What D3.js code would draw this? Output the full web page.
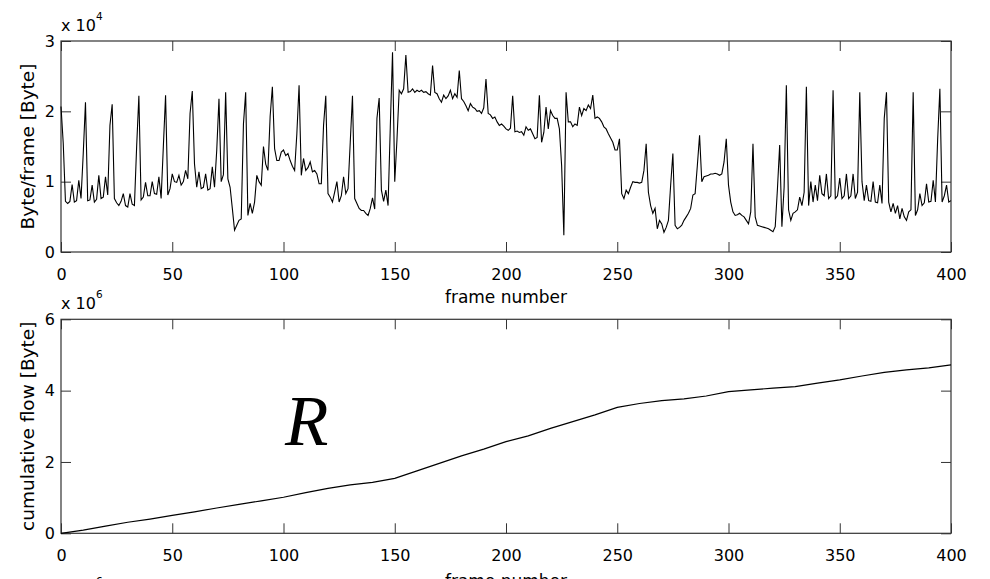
<!DOCTYPE html>
<html>
<head>
<meta charset="utf-8">
<script src="https://cdn.jsdelivr.net/npm/d3@7"></script>
<style>
  html, body { margin: 0; padding: 0; background: #fff; }
  svg { display: block; }
  .tick text { font-family: "DejaVu Sans", sans-serif; font-size: 16px; fill: #000; }
  .tick line { stroke: #333; stroke-width: 1; }
  .label { font-family: "DejaVu Sans", sans-serif; fill: #000; }
</style>
</head>
<body>
<div id="chart"></div>
<script>
// Byte per frame for frames 0..400, in units of 1e4 Byte
const bytesPerFrame = [
    2.07, 1.55, 0.72, 0.69, 0.72, 0.96, 0.71, 0.73, 1.02, 0.76, 1.40, 2.13,
    0.73, 0.74, 0.95, 0.71, 0.75, 1.09, 0.76, 0.78, 1.07, 0.81, 1.80, 2.10,
    0.76, 0.70, 0.66, 0.72, 0.83, 0.66, 0.64, 0.83, 0.68, 0.66, 1.50, 2.22,
    0.74, 0.78, 0.99, 0.80, 0.80, 1.00, 0.83, 0.82, 1.07, 0.76, 1.50, 2.23,
    0.81, 0.90, 1.11, 1.00, 0.99, 1.09, 0.95, 1.00, 1.16, 1.04, 1.97, 2.29,
    1.25, 0.92, 1.14, 0.90, 0.92, 1.11, 0.88, 0.90, 1.21, 0.92, 1.45, 2.18,
    1.00, 1.10, 2.27, 1.04, 0.92, 0.62, 0.31, 0.38, 0.45, 0.47, 1.82, 2.27,
    0.52, 0.69, 0.55, 0.71, 1.09, 1.00, 0.95, 1.50, 1.25, 1.16, 1.93, 2.35,
    1.47, 1.30, 1.30, 1.42, 1.45, 1.37, 1.40, 1.30, 1.22, 1.16, 1.68, 2.37,
    1.09, 1.33, 1.16, 1.20, 1.28, 1.14, 1.16, 1.11, 0.97, 0.97, 1.80, 2.22,
    0.83, 0.78, 0.71, 0.85, 1.00, 0.71, 0.80, 1.07, 0.83, 0.90, 1.56, 2.22,
    0.76, 0.69, 0.62, 0.59, 0.59, 0.55, 0.52, 0.62, 0.77, 0.61, 1.90, 2.19,
    0.88, 0.72, 0.88, 0.66, 1.78, 2.84, 1.00, 1.60, 2.30, 2.25, 2.32, 2.80,
    2.27, 2.28, 2.32, 2.27, 2.30, 2.28, 2.30, 2.27, 2.28, 2.25, 2.23, 2.65,
    2.27, 2.25, 2.18, 2.13, 2.23, 2.18, 2.22, 2.30, 2.18, 2.25, 2.20, 2.58,
    2.18, 2.14, 2.08, 2.01, 2.11, 2.06, 2.04, 2.00, 2.01, 1.97, 2.05, 2.46,
    1.97, 1.95, 1.90, 1.92, 1.85, 1.80, 1.82, 1.79, 1.75, 1.73, 1.76, 2.22,
    1.71, 1.72, 1.70, 1.71, 1.66, 1.78, 1.73, 1.75, 1.68, 1.61, 1.63, 2.23,
    1.56, 1.70, 2.06, 1.75, 2.01, 1.94, 1.90, 1.90, 1.75, 1.23, 0.24, 2.27,
    1.85, 1.85, 1.78, 1.82, 1.80, 2.06, 1.94, 2.04, 2.01, 2.09, 2.04, 2.23,
    1.90, 1.92, 1.90, 1.85, 1.78, 1.75, 1.68, 1.62, 1.56, 1.45, 1.45, 1.61,
    0.83, 0.76, 0.88, 0.83, 0.92, 1.00, 0.99, 0.99, 0.98, 0.99, 1.16, 1.54,
    0.85, 0.66, 0.55, 0.62, 0.33, 0.45, 0.40, 0.28, 0.35, 0.45, 0.95, 1.40,
    0.38, 0.33, 0.35, 0.38, 0.45, 0.50, 0.55, 0.62, 0.81, 0.83, 1.23, 1.66,
    1.00, 1.07, 1.08, 1.09, 1.11, 1.11, 1.12, 1.11, 1.09, 1.11, 1.28, 1.61,
    0.95, 0.71, 0.57, 0.52, 0.53, 0.55, 0.52, 0.50, 0.45, 0.40, 0.57, 1.54,
    0.50, 0.38, 0.37, 0.36, 0.35, 0.34, 0.33, 0.31, 0.29, 0.36, 0.90, 1.52,
    0.36, 0.92, 2.37, 0.60, 0.45, 0.55, 0.57, 0.60, 0.78, 0.66, 0.85, 2.35,
    0.66, 1.00, 0.71, 0.95, 0.73, 1.09, 0.83, 0.80, 1.11, 0.76, 0.80, 2.30,
    0.76, 0.80, 1.05, 0.76, 0.80, 1.11, 0.76, 0.80, 1.11, 0.76, 0.85, 2.27,
    1.00, 0.73, 0.95, 0.73, 0.72, 1.00, 0.71, 0.70, 0.95, 0.69, 1.90, 2.27,
    0.71, 0.57, 0.69, 0.55, 0.66, 0.47, 0.62, 0.50, 0.45, 0.57, 0.60, 2.27,
    0.52, 0.60, 0.83, 0.66, 0.70, 0.97, 0.71, 0.72, 1.02, 0.71, 1.60, 2.32,
    0.71, 0.80, 0.95, 0.71, 0.73
];

// Cumulative flow, sampled every 10 frames, in units of 1e6 Byte
const cumFrames = [0, 10, 20, 30, 40, 50, 60, 70, 80, 90, 100, 110, 120, 130, 140,
    150, 160, 170, 180, 190, 200, 210, 220, 230, 240, 250, 260, 270, 280, 290,
    300, 310, 320, 330, 340, 350, 360, 370, 380, 390, 400];
const cumFlow = [0.00, 0.09, 0.20, 0.31, 0.40, 0.50, 0.60, 0.71, 0.81, 0.91, 1.01,
    1.14, 1.26, 1.36, 1.43, 1.54, 1.75, 1.96, 2.17, 2.36, 2.57, 2.73, 2.94, 3.13,
    3.32, 3.53, 3.64, 3.72, 3.77, 3.85, 3.97, 4.02, 4.07, 4.11, 4.21, 4.30, 4.41,
    4.51, 4.58, 4.64, 4.72];

const xTicks = [0, 50, 100, 150, 200, 250, 300, 350, 400];
const topYTicks = [0, 1, 2, 3];
const bottomYTicks = [0, 2, 4, 6];

const width = 990, height = 579;
const left = 61, right = 951;

const svg = d3.select('#chart')
    .append('svg')
    .attr('width', width)
    .attr('height', height);

const x = d3.scaleLinear().domain([0, 400]).range([left, right]);

// Draws one MATLAB style axes box with inward ticks on all four sides
function drawAxes(top, bottom, yMax, yTicks, exponent) {
    const y = d3.scaleLinear().domain([0, yMax]).range([bottom, top]);
    const g = svg.append('g');

    g.append('g')
        .attr('transform', `translate(0,${bottom})`)
        .call(d3.axisBottom(x).tickValues(xTicks).tickSize(-10).tickPadding(16.5)
            .tickFormat(d3.format('d')))
        .call(a => a.select('.domain').remove());

    g.append('g')
        .attr('transform', `translate(0,${top})`)
        .call(d3.axisTop(x).tickValues(xTicks).tickSize(-10).tickFormat(''))
        .call(a => a.select('.domain').remove());

    g.append('g')
        .attr('transform', `translate(${left},0)`)
        .call(d3.axisLeft(y).tickValues(yTicks).tickSize(-10).tickPadding(6)
            .tickFormat(d3.format('d')))
        .call(a => a.select('.domain').remove());

    g.append('g')
        .attr('transform', `translate(${right},0)`)
        .call(d3.axisRight(y).tickValues(yTicks).tickSize(-10).tickFormat(''))
        .call(a => a.select('.domain').remove());

    g.append('rect')
        .attr('x', left)
        .attr('y', top)
        .attr('width', right - left)
        .attr('height', bottom - top)
        .attr('fill', 'none')
        .attr('stroke', '#333')
        .attr('stroke-width', 1.2);

    drawExponent(top - 10, exponent);
    return y;
}

// "x 10^n" multiplier above the top left corner of an axes
function drawExponent(baseline, exponent) {
    const t = svg.append('text')
        .attr('class', 'label')
        .attr('x', left)
        .attr('y', baseline)
        .attr('font-size', 16)
        .text('x 10');
    t.append('tspan')
        .attr('dy', -11)
        .attr('font-size', 10.5)
        .text(exponent);
}

function drawXLabel(baseline) {
    svg.append('text')
        .attr('class', 'label')
        .attr('x', (left + right) / 2)
        .attr('y', baseline)
        .attr('text-anchor', 'middle')
        .attr('font-size', 17)
        .text('frame number');
}

function drawYLabel(top, bottom, text) {
    svg.append('text')
        .attr('class', 'label')
        .attr('transform', `translate(34,${(top + bottom) / 2}) rotate(-90)`)
        .attr('text-anchor', 'middle')
        .attr('font-size', 18.5)
        .text(text);
}

// Top panel: byte per frame
const yTop = drawAxes(41, 252, 3, topYTicks, '4');
svg.append('path')
    .datum(bytesPerFrame)
    .attr('fill', 'none')
    .attr('stroke', '#000')
    .attr('stroke-width', 1.1)
    .attr('d', d3.line().x((d, i) => x(i)).y(d => yTop(d)));
drawXLabel(303);
drawYLabel(41, 252, 'Byte/frame [Byte]');

// Bottom panel: cumulative flow
const yBottom = drawAxes(319.3, 533.3, 6, bottomYTicks, '6');
svg.append('path')
    .datum(cumFlow)
    .attr('fill', 'none')
    .attr('stroke', '#000')
    .attr('stroke-width', 1.2)
    .attr('d', d3.line().x((d, i) => x(cumFrames[i])).y(d => yBottom(d)));
drawXLabel(587);
drawYLabel(319.3, 533.3, 'cumulative flow [Byte]');

// Big italic R annotation
svg.append('text')
    .attr('x', 285)
    .attr('y', 445)
    .attr('font-family', '"Liberation Serif", "Times New Roman", serif')
    .attr('font-style', 'italic')
    .attr('font-size', 71)
    .attr('fill', '#000')
    .text('R');

// Multiplier of the next panel, cut off by the bottom edge as in the reference
drawExponent(595.5, '6');
</script>
</body>
</html>
